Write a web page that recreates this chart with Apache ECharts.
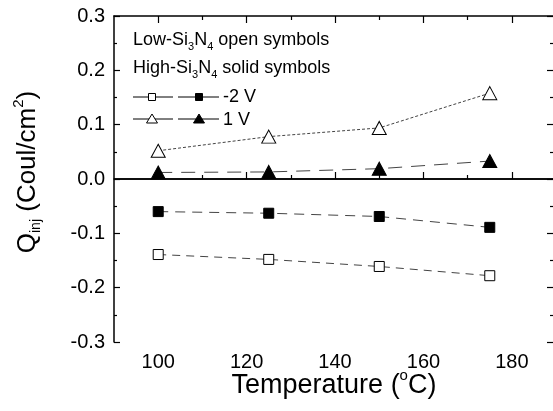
<!DOCTYPE html>
<html>
<head>
<meta charset="utf-8">
<script src="https://cdn.jsdelivr.net/npm/echarts@6/dist/echarts.min.js"></script>
<style>
  html, body { margin: 0; padding: 0; background: #fff; }
  #main { width: 553px; height: 411px; }
</style>
</head>
<body>
<div id="main"></div>
<script>
// temperatures (deg C) and injected charge (Coul/cm2)
const temps = [100, 125, 150, 175];
const lowNeg2V = [-0.139, -0.148, -0.161, -0.178];
const highNeg2V = [-0.060, -0.063, -0.069, -0.089];
const low1V = [0.052, 0.078, 0.094, 0.158];
const high1V = [0.012, 0.013, 0.019, 0.033];
const majorX = [100, 120, 140, 160, 180];
const minorX = [110, 130, 150, 170];

const FONT = "'Liberation Sans', Arial, sans-serif";
const chart = echarts.init(document.getElementById("main"));

const pairs = (vals) => temps.map((t, i) => [t, vals[i]]);

function makeSeries(name, vals, symbol, filled, dash, size) {
    return {
        name: name,
        type: "line",
        data: pairs(vals),
        symbol: symbol,
        symbolSize: size,
        showAllSymbol: true,
        itemStyle: { color: filled ? "#000" : "#fff", borderColor: "#000", borderWidth: 1 },
        lineStyle: { color: "#444", width: 1, type: dash },
        emphasis: { disabled: true },
        z: 3
    };
}

// the frame's right edge falls just outside the picture
const xBase = {
    type: "value", min: 90, max: 189.3,
    splitLine: { show: false },
    axisLine: { lineStyle: { color: "#000", width: 1.5 } }
};

const yBase = {
    type: "value", min: -0.3, max: 0.3, interval: 0.1,
    splitLine: { show: false },
    axisLine: { show: true, lineStyle: { color: "#000", width: 1.5 } },
    axisTick: { inside: true, length: 6, lineStyle: { color: "#000", width: 1.2 } },
    minorTick: { show: true, splitNumber: 2, length: 3, lineStyle: { color: "#000", width: 1.2 } }
};

const series = [
    makeSeries("low -2V", lowNeg2V, "rect", false, [8, 6], 10),
    makeSeries("high -2V", highNeg2V, "rect", true, [10, 7], 10),
    makeSeries("low 1V", low1V, "triangle", false, [3, 2], [14, 13]),
    makeSeries("high 1V", high1V, "triangle", true, [14, 9], [14, 13])
];
series[0].markLine = {
    silent: true, symbol: "none", label: { show: false },
    lineStyle: { color: "#000", width: 1.5, type: "solid" },
    data: [{ yAxis: 0 }]
};

const legendRich = {
    a: { fontSize: 18, fontFamily: FONT, lineHeight: 18, verticalAlign: "top", color: "#000" },
    s: { fontSize: 11, fontFamily: FONT, lineHeight: 11, verticalAlign: "top", padding: [10, 0, 0, 0], color: "#000" }
};

function legendRow(y, shape) {
    const els = [
        { type: "line", shape: { x1: 133, y1: y, x2: 173, y2: y }, style: { stroke: "#000", lineWidth: 1 } },
        { type: "line", shape: { x1: 178, y1: y, x2: 219, y2: y }, style: { stroke: "#000", lineWidth: 1 } }
    ];
    [[152, "#fff"], [199, "#000"]].forEach(([cx, fill]) => {
        if (shape === "rect") {
            els.push({ type: "rect", shape: { x: cx - 3.5, y: y - 3.5, width: 7, height: 7 },
                style: { fill: fill, stroke: "#000", lineWidth: 1 }, z: 10 });
        } else {
            els.push({ type: "polygon", shape: { points: [[cx, y - 5], [cx + 5.5, y + 4], [cx - 5.5, y + 4]] },
                style: { fill: fill, stroke: "#000", lineWidth: 1 }, z: 10 });
        }
    });
    return els;
}

const option = {
    animation: false,
    backgroundColor: "#fff",
    grid: { left: 114, right: 0, top: 16, bottom: 69 },
    xAxis: [
        Object.assign({}, xBase, {
            position: "bottom",
            axisTick: { inside: true, length: 7, customValues: majorX, lineStyle: { color: "#000", width: 1.2 } },
            axisLabel: { customValues: majorX, color: "#000", fontSize: 20, fontFamily: FONT, margin: 10 }
        }),
        Object.assign({}, xBase, {
            position: "bottom",
            axisLine: { show: false },
            axisTick: { inside: true, length: 4, customValues: minorX, lineStyle: { color: "#000", width: 1.2 } },
            axisLabel: { show: false }
        }),
        Object.assign({}, xBase, {
            position: "top",
            axisTick: { inside: true, length: 7, customValues: majorX, lineStyle: { color: "#000", width: 1.2 } },
            axisLabel: { show: false }
        }),
        Object.assign({}, xBase, {
            position: "top",
            axisLine: { show: false },
            axisTick: { inside: true, length: 4, customValues: minorX, lineStyle: { color: "#000", width: 1.2 } },
            axisLabel: { show: false }
        })
    ],
    yAxis: [
        Object.assign({}, yBase, {
            position: "left",
            axisLabel: { color: "#000", fontSize: 20, fontFamily: FONT, margin: 9,
                formatter: (v) => v.toFixed(1) }
        }),
        Object.assign({}, yBase, {
            position: "right",
            axisLine: { show: false },
            axisLabel: { show: false }
        })
    ],
    series: series,
    graphic: [
        { type: "text", x: 133, y: 31, z: 10,
          style: { text: "{a|Low-Si}{s|3}{a|N}{s|4}{a| open symbols}", rich: legendRich,
                   fontSize: 18, fontFamily: FONT, fill: "#000" } },
        { type: "text", x: 133, y: 59, z: 10,
          style: { text: "{a|High-Si}{s|3}{a|N}{s|4}{a| solid symbols}", rich: legendRich,
                   fontSize: 18, fontFamily: FONT, fill: "#000" } },
        ...legendRow(97, "rect"),
        ...legendRow(119, "triangle"),
        { type: "text", x: 223, y: 97, z: 10,
          style: { text: "-2 V", fontSize: 18, fontFamily: FONT, fill: "#000", verticalAlign: "middle" } },
        { type: "text", x: 223, y: 120, z: 10,
          style: { text: "1 V", fontSize: 18, fontFamily: FONT, fill: "#000", verticalAlign: "middle" } },
        { type: "text", x: 24, y: 172, rotation: Math.PI / 2, z: 10,
          style: {
              text: "{q|Q}{sb|inj}{q| (Coul/cm}{sp|2}{q|)}",
              align: "center", verticalAlign: "middle", fontSize: 26, fontFamily: FONT, fill: "#000",
              rich: {
                  q: { fontSize: 26, fontFamily: FONT, lineHeight: 26, verticalAlign: "top", padding: [4, 0, 0, 0] },
                  sb: { fontSize: 14, fontFamily: FONT, lineHeight: 14, verticalAlign: "top", padding: [18, 0, 0, 0] },
                  sp: { fontSize: 15, fontFamily: FONT, lineHeight: 15, verticalAlign: "top" }
              }
          } },
        { type: "text", x: 334, y: 368, z: 10,
          style: {
              text: "{t|Temperature (}{sp|o}{t|C)}",
              align: "center", verticalAlign: "top", fontSize: 27, fontFamily: FONT, fill: "#000",
              rich: {
                  t: { fontSize: 27, fontFamily: FONT, lineHeight: 27, verticalAlign: "top", padding: [4, 0, 0, 0] },
                  sp: { fontSize: 15, fontFamily: FONT, lineHeight: 15, verticalAlign: "top" }
              }
          } }
    ]
};

chart.setOption(option);
</script>
</body>
</html>
